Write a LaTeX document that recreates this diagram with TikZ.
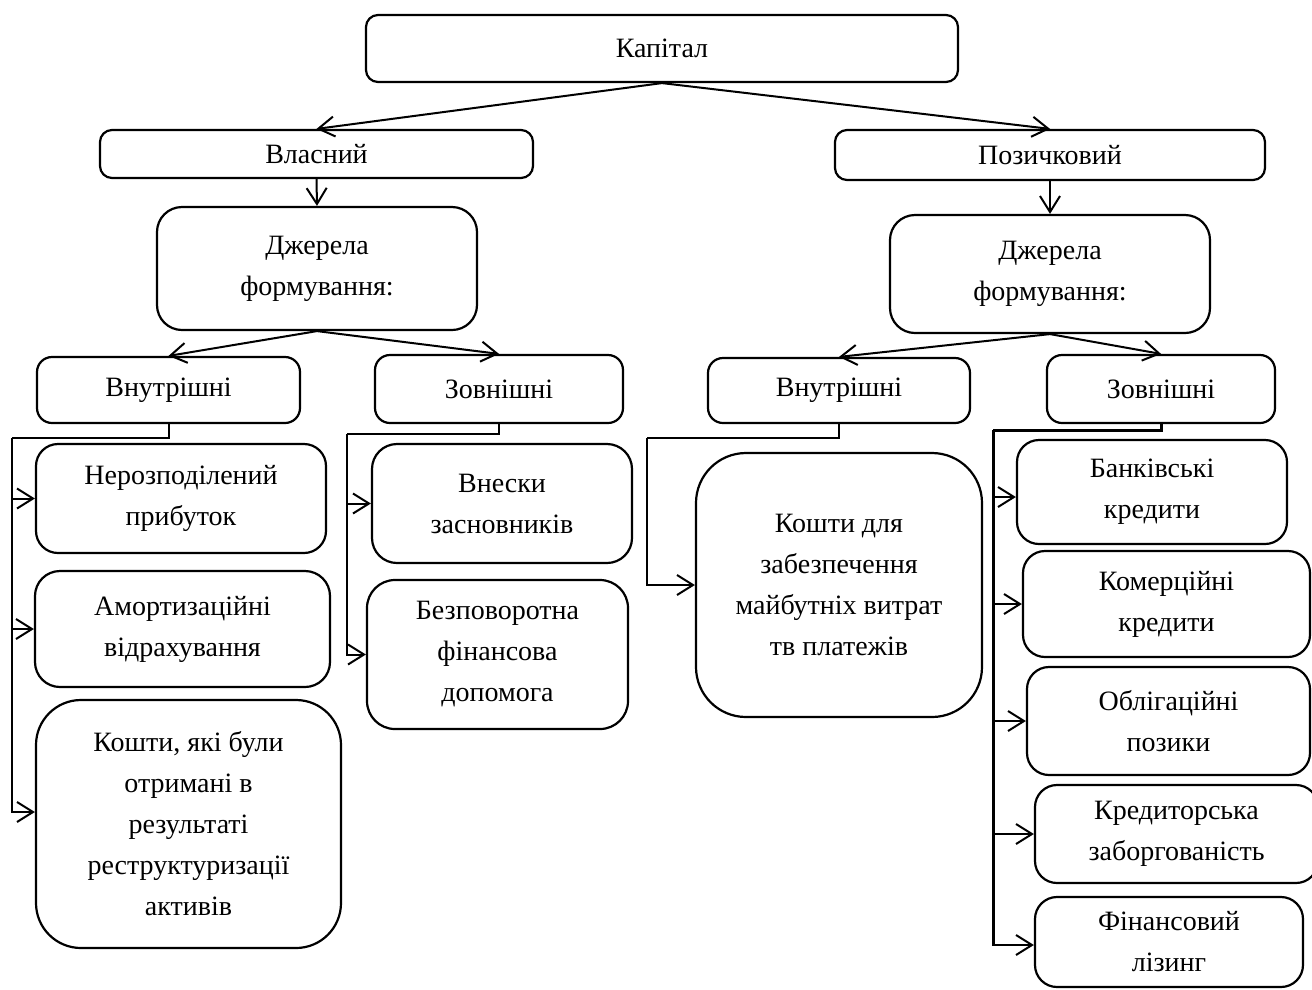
\documentclass[tikz,border=0pt]{standalone}
\usepackage{fontspec}
\setmainfont{Liberation Serif}
\usetikzlibrary{arrows.meta}
\tikzset{
  bx/.style={draw, line width=2.2pt, rounded corners=#1, align=center, inner sep=0pt,
     font=\fontsize{28}{41}\selectfont},
  bx/.default=12pt,
  ln/.style={line width=2pt},
  arw/.style={line width=2pt, -{Straight Barb[length=16pt,width=20pt]}},
  thk/.style={line width=3pt}
}
\newcommand\bbox[7]{%
  \node[bx=#6pt, minimum width=#4pt-#2pt, minimum height=#5pt-#3pt] (#1) at ({(#2+#4)/2},{(#3+#5)/2}) {#7};}
\begin{document}
\begin{tikzpicture}[x=1pt,y=-1pt]
\fill[white] (0,0) rectangle (1312,989);
\useasboundingbox (0,0) rectangle (1312,989);
% top levels
\bbox{kap}{366}{15}{958}{82}{12}{Капітал}
\bbox{vl}{100}{130}{533}{178}{12}{Власний}
\bbox{poz}{835}{130}{1265}{180}{12}{Позичковий}
\bbox{dzl}{157}{207}{477}{330}{25}{Джерела\\формування:}
\bbox{dzr}{890}{215}{1210}{333}{25}{Джерела\\формування:}
\bbox{vnl}{37}{357}{300}{423}{15}{Внутрішні}
\bbox{vzl}{375}{355}{623}{423}{15}{Зовнішні}
\bbox{vnr}{708}{358}{970}{423}{15}{Внутрішні}
\bbox{vzr}{1047}{355}{1275}{423}{15}{Зовнішні}
% left internal
\bbox{ner}{36}{444}{326}{553}{22}{Нерозподілений\\прибуток}
\bbox{amo}{35}{571}{330}{687}{25}{Амортизаційні\\відрахування}
\bbox{kre}{36}{700}{341}{948}{45}{Кошти, які були\\отримані в\\результаті\\реструктуризації\\активів}
% left external
\bbox{vne}{372}{444}{632}{563}{25}{Внески\\засновників}
\bbox{bez}{367}{580}{628}{729}{28}{Безповоротна\\фінансова\\допомога}
% right internal
\bbox{kdl}{696}{453}{982}{717}{50}{Кошти для\\забезпечення\\майбутніх витрат\\тв платежів}
% right external
\bbox{ban}{1017}{440}{1287}{544}{22}{Банківські\\кредити}
\bbox{kom}{1023}{551}{1310}{657}{22}{Комерційні\\кредити}
\bbox{obl}{1027}{667}{1310}{775}{22}{Облігаційні\\позики}
\bbox{kred}{1035}{785}{1318}{883}{22}{Кредиторська\\заборгованість}
\bbox{fin}{1035}{897}{1303}{987}{22}{Фінансовий\\лізинг}
% main arrows
\draw[arw] (kap.south) -- (vl.north);
\draw[arw] (kap.south) -- (poz.north);
\draw[arw] (vl.south) -- (dzl.north);
\draw[arw] (poz.south) -- (dzr.north);
\draw[arw] (dzl.south) -- (vnl.north);
\draw[arw] (dzl.south) -- (vzl.north);
\draw[arw] (dzr.south) -- (vnr.north);
\draw[arw] (dzr.south) -- (vzr.north);
% left internal elbows
\coordinate (bl) at (12,438);
\draw[ln] (vnl.south) |- (bl);
\draw[arw] (bl) |- (ner.west);
\draw[arw] (bl) |- (amo.west);
\draw[arw] (bl) |- ([yshift=12pt]kre.west);
% left external elbows
\coordinate (bz) at (347,434);
\draw[ln] (vzl.south) |- (bz);
\draw[arw] (bz) |- (vne.west);
\draw[arw] (bz) |- (bez.west);
% right internal elbow
\coordinate (br) at (647,438);
\draw[ln] (vnr.south) |- (br);
\draw[arw] (br) |- (kdl.west);
% right external elbows
\coordinate (bre) at (993,430);
\draw[thk] (vzr.south) |- (bre);
\draw[thk] (bre) -- (993,945);
\draw[arw] (bre) |- ([yshift=-5pt]ban.west);
\draw[arw] (bre) |- (kom.west);
\draw[arw] (bre) |- (obl.west);
\draw[arw] (bre) |- (kred.west);
\draw[arw] (bre) |- ([yshift=-3pt]fin.west);
\end{tikzpicture}
\end{document}
